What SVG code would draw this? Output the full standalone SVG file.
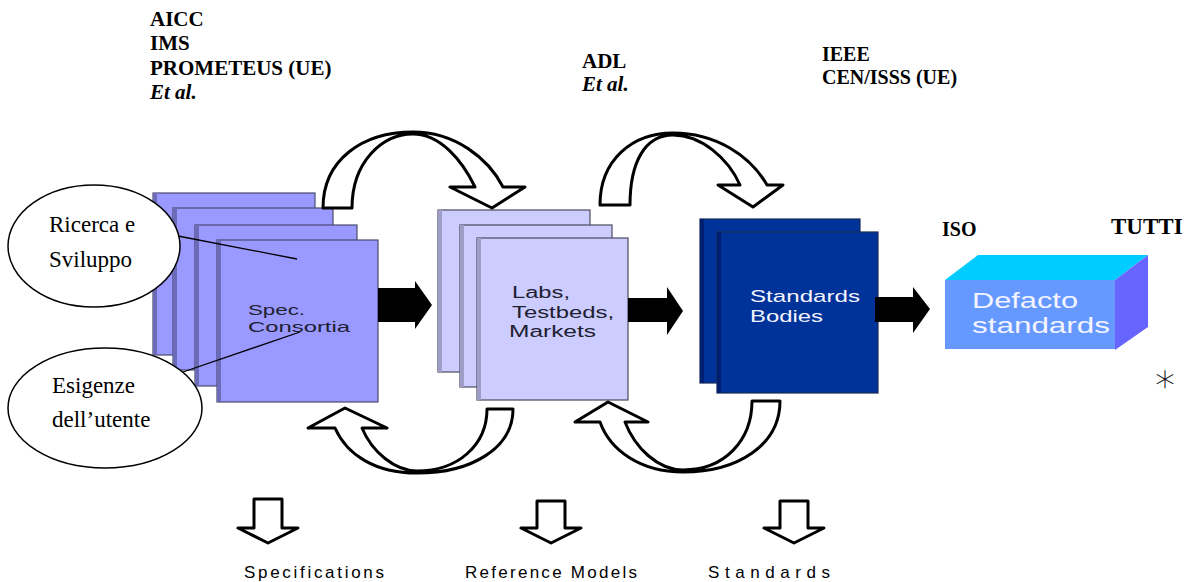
<svg xmlns="http://www.w3.org/2000/svg" width="1186" height="582" viewBox="0 0 1186 582">
  <style>
    .hdr { font-family: "Liberation Serif", "Times New Roman", serif; font-weight: bold; font-size: 20px; fill: #000; }
    .it { font-style: italic; }
    .oval { fill: #fff; stroke: #000; stroke-width: 1.5; }
    .ovalText { font-family: "Liberation Serif", "Times New Roman", serif; font-size: 23px; fill: #000; }
    .spec { fill: #9999ff; stroke: #4a4a70; stroke-width: 1.2; }
    .specEdge { fill: #6b6bb8; }
    .labs { fill: #ccccff; stroke: #4a4a60; stroke-width: 1.2; }
    .labsEdge { fill: #9d9dc6; }
    .std { fill: #003399; stroke: #1a2a55; stroke-width: 1.2; }
    .stdEdge { fill: #001f70; }
    .sans { font-family: "Liberation Sans", Arial, sans-serif; }
    .dark { fill: #202030; }
    .light { fill: #f4f4ff; }
    .flow { fill: #000; }
    .hollow { fill: #fff; stroke: #000; stroke-width: 3; stroke-linejoin: round; }
    .lead { stroke: #000; stroke-width: 1.3; fill: none; }
    .out { font-family: "Liberation Sans", Arial, sans-serif; font-size: 17px; fill: #000; }
  </style>

  <!-- organisations heading each phase -->
  <g id="labels-top">
    <text class="hdr" x="150" y="26" style="font-size:21px">AICC</text>
    <text class="hdr" x="150" y="50" style="font-size:21px">IMS</text>
    <text class="hdr" x="150" y="75" style="font-size:21px">PROMETEUS (UE)</text>
    <text class="hdr it" x="150" y="99" style="font-size:21px">Et al.</text>
    <text class="hdr" x="582" y="68" style="font-size:21px">ADL</text>
    <text class="hdr it" x="582" y="91" style="font-size:21px">Et al.</text>
    <text class="hdr" x="822" y="61">IEEE</text>
    <text class="hdr" x="822" y="84">CEN/ISSS (UE)</text>
    <text class="hdr" x="942" y="236">ISO</text>
    <text class="hdr" x="1111" y="234" style="font-size:23px">TUTTI</text>
    <text x="1165" y="392" text-anchor="middle" style="font-family:'DejaVu Sans',sans-serif;font-size:40px;font-weight:200;fill:#000">∗</text>
  </g>

  <!-- specification consortia: four stacked sheets -->
  <g id="node-spec">
    <rect class="spec" x="153" y="193" width="162" height="162"/>
    <rect class="specEdge" x="153" y="193" width="4" height="162"/>
    <rect class="spec" x="173" y="208" width="160" height="162"/>
    <rect class="specEdge" x="173" y="208" width="4" height="162"/>
    <rect class="spec" x="195" y="225" width="162" height="161"/>
    <rect class="specEdge" x="195" y="225" width="4" height="161"/>
    <rect class="spec" x="217" y="240" width="161" height="162"/>
    <rect class="specEdge" x="217" y="240" width="4" height="162"/>
    <text class="sans dark" x="248" y="315" font-size="15" textLength="57" lengthAdjust="spacingAndGlyphs">Spec.</text>
    <text class="sans dark" x="248" y="332" font-size="15" textLength="102" lengthAdjust="spacingAndGlyphs">Consortia</text>
  </g>

  <!-- labs / testbeds / markets: three stacked sheets -->
  <g id="node-labs">
    <rect class="labs" x="438" y="210" width="152" height="162"/>
    <rect class="labsEdge" x="438" y="210" width="4" height="162"/>
    <rect class="labs" x="460" y="225" width="152" height="162"/>
    <rect class="labsEdge" x="460" y="225" width="4" height="162"/>
    <rect class="labs" x="477" y="238" width="151" height="162"/>
    <rect class="labsEdge" x="477" y="238" width="4" height="162"/>
    <text class="sans dark" x="512" y="298" font-size="16" textLength="58" lengthAdjust="spacingAndGlyphs">Labs,</text>
    <text class="sans dark" x="512" y="318" font-size="16" textLength="102" lengthAdjust="spacingAndGlyphs">Testbeds,</text>
    <text class="sans dark" x="509" y="337" font-size="16" textLength="87" lengthAdjust="spacingAndGlyphs">Markets</text>
  </g>

  <!-- standards bodies: two stacked sheets -->
  <g id="node-standards">
    <rect class="std" x="700" y="219" width="160" height="164"/>
    <rect class="stdEdge" x="700" y="219" width="4" height="164"/>
    <rect class="std" x="717" y="232" width="161" height="161"/>
    <rect class="stdEdge" x="717" y="232" width="4" height="161"/>
    <text class="sans light" x="750" y="302" font-size="17" textLength="110" lengthAdjust="spacingAndGlyphs">Standards</text>
    <text class="sans light" x="750" y="322" font-size="17" textLength="73" lengthAdjust="spacingAndGlyphs">Bodies</text>
  </g>

  <!-- de facto standards: 3D block -->
  <g id="node-defacto">
    <polygon points="945,280 978,255 1148,255 1115,280" fill="#00ccff"/>
    <polygon points="1115,280 1148,255 1148,327 1115,350" fill="#6666ff"/>
    <rect x="945" y="280" width="170" height="69" fill="#6699ff"/>
    <text class="sans light" x="972" y="308" font-size="22" textLength="106" lengthAdjust="spacingAndGlyphs">Defacto</text>
    <text class="sans light" x="972" y="333" font-size="22" textLength="138" lengthAdjust="spacingAndGlyphs">standards</text>
  </g>

  <!-- inputs -->
  <g id="node-ricerca">
    <ellipse class="oval" cx="94" cy="246" rx="86" ry="61"/>
    <text class="ovalText" x="49" y="232">Ricerca e</text>
    <text class="ovalText" x="49" y="267">Sviluppo</text>
  </g>
  <g id="node-esigenze">
    <ellipse class="oval" cx="105" cy="408" rx="97" ry="60"/>
    <text class="ovalText" x="52" y="393">Esigenze</text>
    <text class="ovalText" x="52" y="427">dell’utente</text>
  </g>

  <!-- outputs -->
  <g id="node-outputs">
    <text class="out" x="244" y="578" textLength="140" lengthAdjust="spacing">Specifications</text>
    <text class="out" x="465" y="578" textLength="172" lengthAdjust="spacing">Reference Models</text>
    <text class="out" x="708" y="578" textLength="122" lengthAdjust="spacing">Standards</text>
  </g>

  <g id="connectors">
    <!-- forward flow -->
    <path class="flow" d="M378,288 H415 V281 L432,305 L415,329 V322 H378 Z"/>
    <path class="flow" d="M628,298 H667 V287 L683,311 L667,335 V322 H628 Z"/>
    <path class="flow" d="M875,297 H913 V287 L930,309 L913,333 V322 H875 Z"/>

    <!-- feed-forward arcs over the top -->
    <path class="hollow" d="M323,208 C323,160 362,132 413,132 C455,132 488,158 503,187 L525,187 L492,208 L450,187 L475,187 C462,160 440,134 413,134 C382,134 352,162 352,208 Z"/>
    <path class="hollow" d="M600,205 C600,160 632,133 673,133 C715,133 750,155 767,185 L783,185 L753,207 L718,185 L740,185 C728,158 701,135 673,135 C645,135 630,162 630,205 Z"/>

    <!-- feedback arcs underneath -->
    <path class="hollow" d="M513,409 C513,448 472,473 417,473 C375,473 347,455 335,428 L308,428 L345,408 L387,428 L362,428 C372,452 395,471 417,471 C458,471 487,445 487,409 Z"/>
    <path class="hollow" d="M780,401 C780,445 738,472 683,472 C640,472 610,450 600,422 L575,422 L608,402 L648,422 L625,422 C635,448 658,470 683,470 C725,470 752,440 752,401 Z"/>

    <!-- downward output arrows -->
    <path class="hollow" d="M254,499 H282 V528 H298 L268,543 L238,528 H254 Z"/>
    <path class="hollow" d="M537,501 H565 V528 H581 L551,543 L521,528 H537 Z"/>
    <path class="hollow" d="M780,501 H808 V528 H824 L794,543 L764,528 H780 Z"/>

    <!-- leader lines from inputs -->
    <line class="lead" x1="178" y1="236" x2="297" y2="259"/>
    <line class="lead" x1="183" y1="372" x2="300" y2="332"/>
  </g>
</svg>
